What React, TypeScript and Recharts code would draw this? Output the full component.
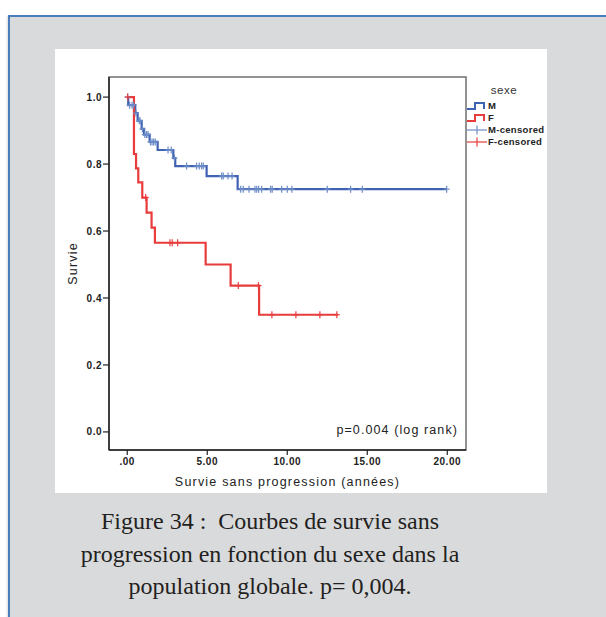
import React from "react";
import {
  ComposedChart,
  Line,
  Scatter,
  XAxis,
  YAxis,
  ReferenceArea,
} from "recharts";

// Kaplan-Meier steps (time in years, survival)
const maleTimes = [0, 0.06, 0.5, 0.65, 0.9, 1.05, 1.4, 1.9, 2.88, 3.0, 4.96, 6.9, 19.96];
const maleSurv = [1, 0.976, 0.952, 0.929, 0.905, 0.888, 0.866, 0.842, 0.818, 0.794, 0.764, 0.725, 0.725];

const femaleTimes = [0, 0.42, 0.55, 0.69, 0.94, 1.21, 1.52, 1.73, 4.9, 6.46, 8.24, 13.15];
const femaleSurv = [1, 0.83, 0.787, 0.745, 0.7, 0.655, 0.61, 0.565, 0.5, 0.437, 0.35, 0.35];

// censored observations
const maleCensorTimes = [
  0.02, 0.15, 0.3, 0.4, 0.55, 0.75, 0.8, 0.95, 1.1, 1.2, 1.3, 1.45, 1.55, 1.65, 1.75,
  2.55, 2.75, 2.95, 3.71, 4.33, 4.5, 4.65, 4.75, 5.9, 6.0, 6.3, 6.55,
  7.09, 7.25, 7.61, 7.98, 8.09, 8.21, 8.4, 8.96, 9.06, 9.65, 10.0, 10.29, 12.5, 13.96, 14.69, 19.96,
];
const maleCensorSurv = [
  1, 0.976, 0.976, 0.976, 0.952, 0.929, 0.929, 0.905, 0.888, 0.888, 0.888, 0.866, 0.866, 0.866, 0.866,
  0.842, 0.842, 0.818, 0.794, 0.794, 0.794, 0.794, 0.794, 0.764, 0.764, 0.764, 0.764,
  0.725, 0.725, 0.725, 0.725, 0.725, 0.725, 0.725, 0.725, 0.725, 0.725, 0.725, 0.725, 0.725, 0.725, 0.725, 0.725,
];

const femaleCensorTimes = [0.03, 1.15, 2.67, 2.81, 3.15, 6.94, 8.2, 9.04, 10.54, 12.04, 13.1];
const femaleCensorSurv = [1, 0.7, 0.565, 0.565, 0.565, 0.437, 0.437, 0.35, 0.35, 0.35, 0.35];

const xTicks = [0, 5, 10, 15, 20];
const xTickLabels = [".00", "5.00", "10.00", "15.00", "20.00"];
const yTicks = [0, 0.2, 0.4, 0.6, 0.8, 1.0];
const yTickLabels = ["0.0", "0.2", "0.4", "0.6", "0.8", "1.0"];

const BLUE = "#3f62b3";
const BLUE_CENS = "#6d8dc8";
const RED = "#e83c3c";

const zip = (t: number[], s: number[]) => t.map((v, i) => ({ t: v, s: s[i] }));

const maleData = zip(maleTimes, maleSurv);
const femaleData = zip(femaleTimes, femaleSurv);
const maleCensored = zip(maleCensorTimes, maleCensorSurv);
const femaleCensored = zip(femaleCensorTimes, femaleCensorSurv);

const TICK_STYLE = {
  fontSize: 10,
  fontWeight: 700,
  fill: "#222",
  fontFamily: "Liberation Sans, Arial, sans-serif",
  letterSpacing: 0.5,
};

const censorShape = (color: string) => (props: any) => {
  const { cx, cy } = props;
  return (
    <g>
      <line x1={cx} x2={cx} y1={cy - 3.5} y2={cy + 3.5} stroke={color} strokeWidth={1.2} />
      <line x1={cx - 3} x2={cx + 3} y1={cy} y2={cy} stroke={color} strokeWidth={1.2} />
    </g>
  );
};

function LegendRow({ top, color, kind, label }: { top: number; color: string; kind: "step" | "cens"; label: string }) {
  return (
    <div style={{ position: "absolute", left: 467, top, height: 12, display: "flex", alignItems: "center" }}>
      <svg width={21} height={12} style={{ display: "block" }}>
        {kind === "step" ? (
          <path d="M0 9 H8 V3 H17 V9" fill="none" stroke={color} strokeWidth={2} />
        ) : (
          <g>
            <line x1={0} x2={20} y1={6} y2={6} stroke={color} strokeWidth={1.2} />
            <line x1={10} x2={10} y1={1.5} y2={10.5} stroke={color} strokeWidth={1.2} />
          </g>
        )}
      </svg>
      <span style={{ fontSize: 9.5, fontWeight: 700, color: "#222", letterSpacing: 0.3, lineHeight: "12px" }}>{label}</span>
    </div>
  );
}

export default function App() {
  return (
    <div
      style={{
        position: "absolute",
        left: 0,
        top: 0,
        width: 606,
        height: 617,
        overflow: "hidden",
        background: "#fff",
        fontFamily: "Liberation Sans, Arial, sans-serif",
      }}
    >
      {/* grey frame */}
      <div
        style={{
          position: "absolute",
          left: 8,
          top: 15,
          width: 660,
          height: 660,
          background: "#d9dadc",
          borderLeft: "2px solid #4a7ebb",
          borderTop: "2px solid #4a7ebb",
          boxShadow: "-1px 1px 2px rgba(0,0,0,0.15)",
        }}
      />

      {/* white chart panel */}
      <div style={{ position: "absolute", left: 55, top: 49, width: 492, height: 444, background: "#fff" }}>
        <ComposedChart width={492} height={444} margin={{ top: 28, right: 81, bottom: 0, left: 0 }}>
          <XAxis
            type="number"
            dataKey="t"
            domain={[-1.14, 21.17]}
            allowDataOverflow
            ticks={xTicks}
            tickFormatter={(v: number) => xTickLabels[xTicks.indexOf(v)] ?? String(v)}
            height={43}
            tick={TICK_STYLE}
            tickSize={5}
            tickMargin={3}
            axisLine={{ stroke: "#222", strokeWidth: 1.5 }}
            tickLine={{ stroke: "#222", strokeWidth: 1.2 }}
            label={({ viewBox }: any) => (
              <text
                x={viewBox.x + viewBox.width / 2}
                y={viewBox.y + 32}
                textAnchor="middle"
                dominantBaseline="central"
                style={{ fontSize: 12.5, fill: "#222", letterSpacing: 1.2 }}
              >
                Survie sans progression (années)
              </text>
            )}
          />
          <YAxis
            type="number"
            dataKey="s"
            domain={[-0.054, 1.06]}
            allowDataOverflow
            ticks={yTicks}
            tickFormatter={(v: number) => yTickLabels[yTicks.indexOf(v)] ?? String(v)}
            width={54}
            tick={TICK_STYLE}
            tickSize={6}
            tickMargin={1}
            axisLine={{ stroke: "#222", strokeWidth: 1.5 }}
            tickLine={{ stroke: "#222", strokeWidth: 1.2 }}
            label={({ viewBox }: any) => {
              const x = viewBox.x + 18;
              const y = viewBox.y + viewBox.height / 2;
              return (
                <text
                  x={x}
                  y={y}
                  textAnchor="middle"
                  dominantBaseline="central"
                  transform={`rotate(-90 ${x} ${y})`}
                  style={{ fontSize: 12.5, fill: "#222", letterSpacing: 1.2 }}
                >
                  Survie
                </text>
              );
            }}
          />
          <ReferenceArea
            x1={-1.14}
            x2={21.17}
            y1={-0.054}
            y2={1.06}
            fill="none"
            stroke="#6f6f6f"
            strokeWidth={1.5}
          />
          <Line
            data={maleData}
            dataKey="s"
            type="stepAfter"
            stroke={BLUE}
            strokeWidth={2.2}
            dot={false}
            activeDot={false}
            isAnimationActive={false}
          />
          <Line
            data={femaleData}
            dataKey="s"
            type="stepAfter"
            stroke={RED}
            strokeWidth={2.2}
            dot={false}
            activeDot={false}
            isAnimationActive={false}
          />
          <Scatter data={maleCensored} shape={censorShape(BLUE_CENS)} isAnimationActive={false} />
          <Scatter data={femaleCensored} shape={censorShape(RED)} isAnimationActive={false} />
        </ComposedChart>
      </div>

      {/* p value */}
      <div
        style={{
          position: "absolute",
          right: 148,
          top: 422,
          fontSize: 12.5,
          lineHeight: "16px",
          letterSpacing: 1.1,
          color: "#222",
          whiteSpace: "nowrap",
        }}
      >
        p=0.004 (log rank)
      </div>

      {/* legend */}
      <div
        style={{
          position: "absolute",
          left: 484,
          width: 40,
          top: 83,
          textAlign: "center",
          fontSize: 11.5,
          lineHeight: "14px",
          color: "#333",
          letterSpacing: 0.6,
        }}
      >
        sexe
      </div>
      <LegendRow top={100} color={BLUE} kind="step" label="M" />
      <LegendRow top={112} color={RED} kind="step" label="F" />
      <LegendRow top={124} color={BLUE_CENS} kind="cens" label="M-censored" />
      <LegendRow top={136} color={RED} kind="cens" label="F-censored" />

      {/* caption */}
      <div
        style={{
          position: "absolute",
          left: 55,
          width: 430,
          top: 505,
          fontFamily: "Liberation Serif, Times New Roman, serif",
          fontSize: 24,
          lineHeight: "32.5px",
          textAlign: "center",
          color: "#231f20",
        }}
      >
        Figure 34 :{"\u00a0"} Courbes de survie sans
        <br />
        progression en fonction du sexe dans la
        <br />
        population globale. p= 0,004.
      </div>
    </div>
  );
}
